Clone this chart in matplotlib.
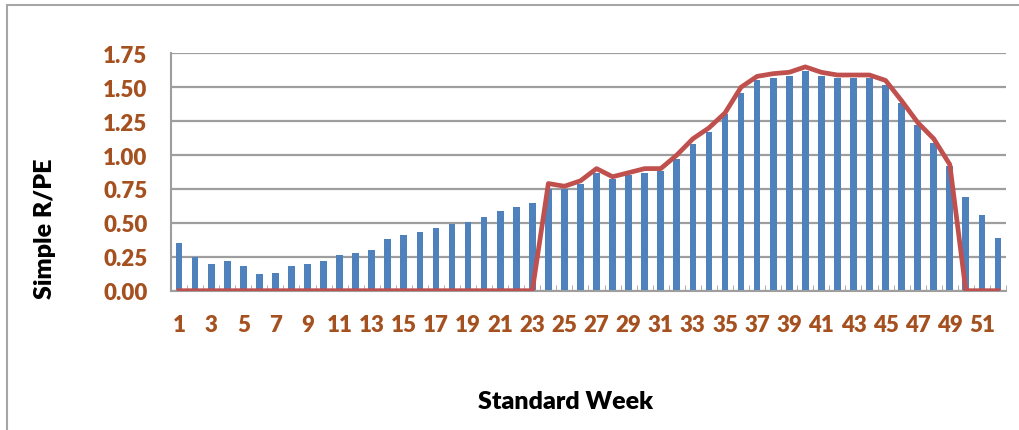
import numpy as np
import matplotlib.pyplot as plt
from matplotlib.patches import Rectangle

plt.rcParams['font.family'] = ['Lato', 'Liberation Sans', 'DejaVu Sans']

weeks = np.arange(1, 53)
# simple R/PE per standard week (bars)
rpe = [0.35, 0.25, 0.20, 0.22, 0.18, 0.12, 0.13, 0.18, 0.20, 0.22,
       0.26, 0.28, 0.30, 0.38, 0.41, 0.43, 0.46, 0.49, 0.51, 0.54,
       0.59, 0.62, 0.65, 0.75, 0.75, 0.79, 0.87, 0.82, 0.85, 0.87,
       0.88, 0.97, 1.08, 1.17, 1.30, 1.46, 1.55, 1.57, 1.58, 1.62,
       1.58, 1.57, 1.57, 1.57, 1.52, 1.38, 1.22, 1.09, 0.92, 0.69,
       0.56, 0.39]
# smoothed / season line
season = [0, 0, 0, 0, 0, 0, 0, 0, 0, 0,
          0, 0, 0, 0, 0, 0, 0, 0, 0, 0,
          0, 0, 0, 0.79, 0.77, 0.81, 0.90, 0.84, 0.87, 0.90,
          0.90, 1.00, 1.12, 1.20, 1.31, 1.50, 1.58, 1.60, 1.61, 1.65,
          1.61, 1.59, 1.59, 1.59, 1.55, 1.40, 1.24, 1.12, 0.93, 0,
          0, 0]
xtick_labels = [str(w) for w in weeks[::2]]
yticks = [0, 0.25, 0.5, 0.75, 1.0, 1.25, 1.5, 1.75]

brown = '#A5501F'
grey = '#9E9E9E'

fig = plt.figure(figsize=(10.2, 4.31), dpi=100)
ax = fig.add_axes([171 / 1020, 139.3 / 431, 835 / 1020, 237.4 / 431])

ax.bar(weeks, rpe, width=0.42, color='#4F81BD', zorder=2)
ax.plot(weeks, season, color='#C0504D', lw=3.4, zorder=3, solid_joinstyle='round')

ax.set_xlim(0.5, 52.5)
ax.set_ylim(0, 1.75)
ax.set_yticks(yticks)
ax.set_yticklabels([f'{v:.2f}' for v in yticks])
ax.set_xticks(weeks[::2])
ax.set_xticklabels(xtick_labels)
ax.set_xticks(np.arange(0.5, 53, 1), minor=True)

ax.grid(axis='y', color=grey, lw=1.6, zorder=0)
for s in ['top', 'right']:
    ax.spines[s].set_visible(False)
ax.spines['left'].set_color(grey)
ax.spines['bottom'].set_color(grey)
ax.spines['left'].set_linewidth(1.5)
ax.spines['bottom'].set_linewidth(1.5)

ax.tick_params(axis='y', length=0, pad=17, labelsize=16, labelcolor=brown)
ax.tick_params(axis='x', which='major', length=0, pad=17, labelsize=16, labelcolor=brown)
ax.tick_params(axis='x', which='minor', direction='in', length=4, color=grey)
for lbl in ax.get_xticklabels() + ax.get_yticklabels():
    lbl.set_fontweight('heavy')

fig.text(565 / 1020, 1 - 402 / 431, 'Standard Week', ha='center', va='center',
         fontsize=18, fontweight='heavy')
fig.text(45 / 1020, 1 - 229 / 431, 'Simple R/PE', ha='center', va='center',
         rotation=90, fontsize=18, fontweight='heavy')

# outer chart border
fig.patches.append(Rectangle((7 / 1020, -0.1), 1.1, 1 - 6 / 431 + 0.1,
                             transform=fig.transFigure, fill=False,
                             edgecolor='#A6A6A6', lw=1.5))

fig.savefig('out.png', dpi=100)
